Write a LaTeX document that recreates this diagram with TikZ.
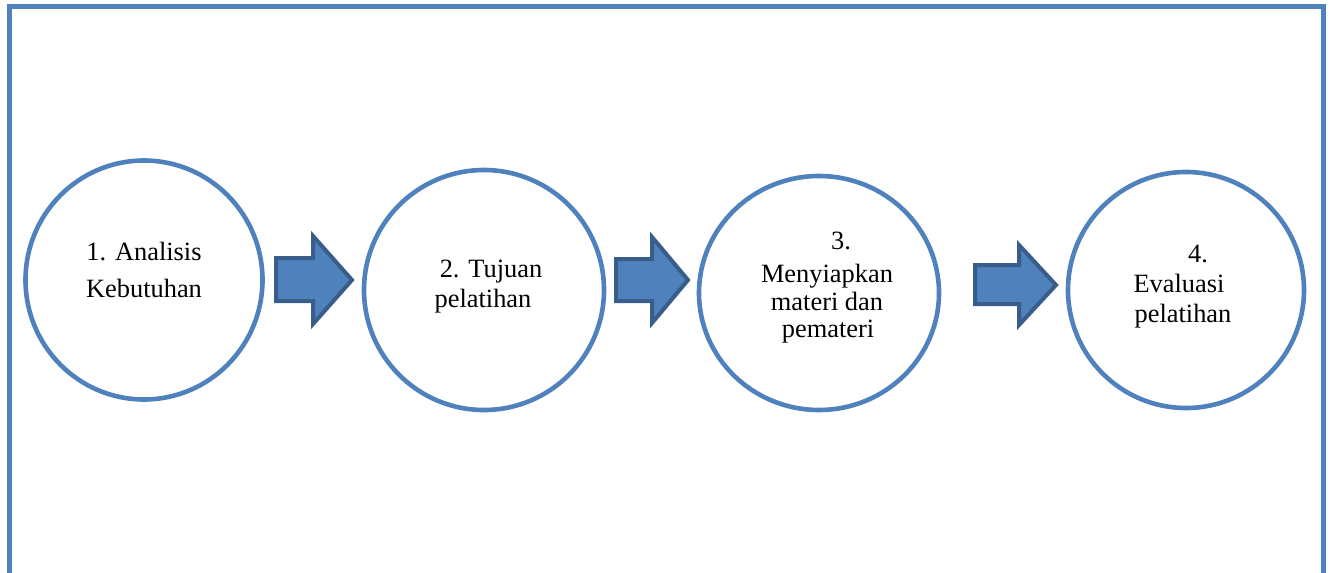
\documentclass[tikz,border=0pt]{standalone}
\usepackage{fontspec}
\setmainfont{Liberation Serif}
\definecolor{blu}{HTML}{4F81BD}
\definecolor{dblu}{HTML}{385D8A}
\begin{document}
\begin{tikzpicture}[x=1pt,y=-1pt,
  ring/.style={draw=blu,line width=4.6pt},
  lbl/.style={font=\fontsize{26.4}{30}\selectfont,anchor=base,inner sep=0pt},
  blockarrow/.style={fill=blu,draw=dblu,line width=4pt,line join=miter}]
\useasboundingbox (0,0) rectangle (1331,573);
\draw[blu,line width=5pt] (9,620) -- (9,6.5) -- (1323,6.5) -- (1323,620);
% circles
\draw[ring] (144,280) ellipse (118.5 and 119.5);
\node[minimum size=1pt] (c1) at (144,280) {};
\draw[ring] (484,290) ellipse (120 and 120);
\node[minimum size=1pt] (c2) at (484,290) {};
\draw[ring] (819,293) ellipse (120 and 117);
\node[minimum size=1pt] (c3) at (819,293) {};
\draw[ring] (1186,290) ellipse (118 and 118);
\node[minimum size=1pt] (c4) at (1186,290) {};
% texts
\node[lbl] (t1a) at (144,260) {1. Analisis};
\node[lbl] (t1b) at (144,297) {Kebutuhan};
\node[lbl] (t2a) at (491,277) {2. Tujuan};
\node[lbl] (t2b) at (483,307) {pelatihan};
\node[lbl] (t3a) at (841,249) {3.};
\node[lbl] (t3b) at (827,282) {Menyiapkan};
\node[lbl] (t3c) at (827,310) {materi dan};
\node[lbl] (t3d) at (828,337) {pemateri};
\node[lbl] (t4a) at (1198,262) {4.};
\node[lbl] (t4b) at (1179,292) {Evaluasi};
\node[lbl] (t4c) at (1183,322) {pelatihan};
% arrows
\draw[blockarrow] (276,258) -- (313,258) -- (313,236) -- (352,280) -- (313,324) -- (313,301) -- (276,301) -- cycle;
\draw[blockarrow] (616,259) -- (652,259) -- (652,237) -- (688,280) -- (652,323) -- (652,301) -- (616,301) -- cycle;
\draw[blockarrow] (975,265) -- (1019,265) -- (1019,245) -- (1056,285) -- (1019,325) -- (1019,304) -- (975,304) -- cycle;
\end{tikzpicture}
\end{document}
